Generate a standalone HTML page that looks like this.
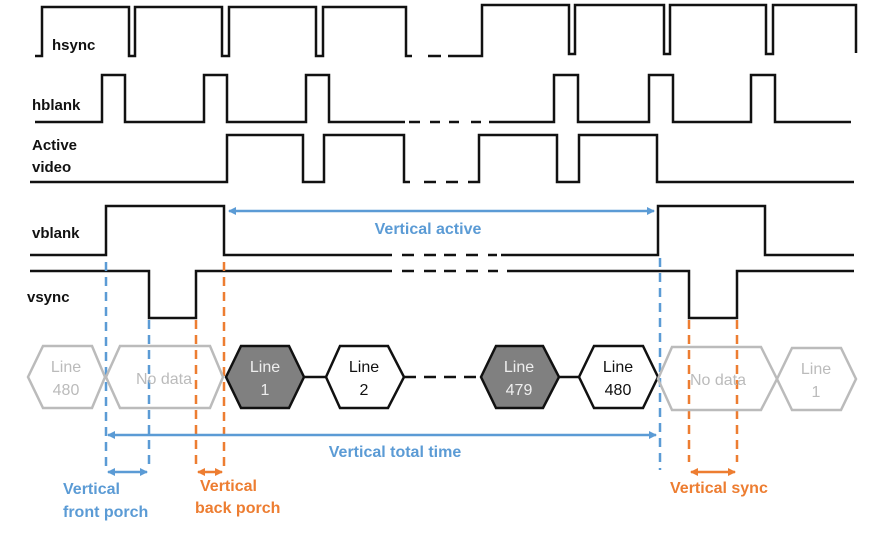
<!DOCTYPE html>
<html><head><meta charset="utf-8"><style>
html,body{margin:0;padding:0;background:#fff}
svg{display:block}
text{font-family:"Liberation Sans",sans-serif}
</style></head><body>
<svg width="888" height="534" viewBox="0 0 888 534" xmlns="http://www.w3.org/2000/svg">
<defs>
<marker id="ab" markerWidth="8" markerHeight="8" refX="7" refY="4" orient="auto-start-reverse" markerUnits="userSpaceOnUse"><path d="M0,0 L8,4 L0,8 z" fill="#5b9bd5"/></marker>
<marker id="ao" markerWidth="8" markerHeight="8" refX="7" refY="4" orient="auto-start-reverse" markerUnits="userSpaceOnUse"><path d="M0,0 L8,4 L0,8 z" fill="#ed7d31"/></marker>
</defs>
<g fill="none" stroke="#111" stroke-width="2.5">
<path d="M35,56 H42 V7 H129 V56 H135 V7 H222 V56 H229 V7 H316 V56 H323 V7 H406 V56 H412"/>
<path d="M428,56 H441 M448,56 H482 V5 H569 V54 H575 V5 H664 V54 H670 V5 H766 V54 H773 V5 H856 V53"/>
<path d="M35,122 H102 V75 H125 V122 H204 V75 H227 V122 H306 V75 H329 V122 H405"/>
<path d="M409,122 H420 M430,122 H440 M449,122 H459 M471,122 H481 M489,122 H554 V75 H578 V122 H649 V75 H673 V122 H751 V75 H775 V122 H851"/>
<path d="M30,182 H227 V135 H303 V182 H324 V135 H404 V182 H410"/>
<path d="M424,182 H436 M446,182 H458 M468,182 H479 V135 H557 V182 H579 V135 H657 V182 H854"/>
<path d="M30,255 H106 V206 H224 V255 H392"/>
<path d="M402,255 H414 M424,255 H436 M444,255 H456 M466,255 H478 M488,255 H497 M501,255 H658 V206 H765 V255 H854"/>
<path d="M30,271 H149 V318 H196 V271 H392"/>
<path d="M402,271 H414 M424,271 H436 M444,271 H456 M466,271 H478 M488,271 H498 M507,271 H689 V318 H737 V271 H854"/>
</g>
<g stroke-width="2.5" stroke-dasharray="9,6" fill="none">
<path d="M106,262 V470 M149,320 V470 M660,258 V470" stroke="#5b9bd5"/>
<path d="M196,320 V470 M224,262 V470 M689,320 V462 M737,320 V462" stroke="#ed7d31"/>
</g>
<g stroke-width="2.5">
<path d="M28,377 L43,346 H92 L105,377 L92,408 H43 Z" fill="none" stroke="#bbb"/>
<path d="M106,377 L120,346 H210 L223,377 L210,408 H120 Z" fill="none" stroke="#bbb"/>
<path d="M304,377 H326 M559,377 H579" stroke="#111"/>
<path d="M404,377 H480" stroke="#111" stroke-dasharray="12,8"/>
<path d="M226,377 L241,346 H289 L304,377 L289,408 H241 Z" fill="#808080" stroke="#111"/>
<path d="M326,377 L340,346 H388 L404,377 L388,408 H340 Z" fill="#fff" stroke="#111"/>
<path d="M481,377 L496,346 H543 L559,377 L543,408 H496 Z" fill="#808080" stroke="#111"/>
<path d="M579,377 L594,346 H643 L658,377 L643,408 H594 Z" fill="#fff" stroke="#111"/>
<path d="M658,379 L672,347 H761 L777,379 L761,410 H672 Z" fill="none" stroke="#bbb"/>
<path d="M777,379 L792,348 H841 L856,379 L841,410 H792 Z" fill="none" stroke="#bbb"/>
</g>
<g font-size="16" text-anchor="middle">
<text x="66" y="372" fill="#bbb">Line</text><text x="66" y="395" fill="#bbb">480</text>
<text x="164" y="384" fill="#bbb">No data</text>
<text x="265" y="372" fill="#eee">Line</text><text x="265" y="395" fill="#eee">1</text>
<text x="364" y="372" fill="#111">Line</text><text x="364" y="395" fill="#111">2</text>
<text x="519" y="372" fill="#eee">Line</text><text x="519" y="395" fill="#eee">479</text>
<text x="618" y="372" fill="#111">Line</text><text x="618" y="395" fill="#111">480</text>
<text x="718" y="385" fill="#bbb">No data</text>
<text x="816" y="374" fill="#bbb">Line</text><text x="816" y="397" fill="#bbb">1</text>
</g>
<g stroke-width="2.5" fill="none">
<line x1="229" y1="211" x2="654" y2="211" stroke="#5b9bd5" marker-start="url(#ab)" marker-end="url(#ab)"/>
<line x1="108" y1="435" x2="656" y2="435" stroke="#5b9bd5" marker-start="url(#ab)" marker-end="url(#ab)"/>
<line x1="108" y1="472" x2="147" y2="472" stroke="#5b9bd5" marker-start="url(#ab)" marker-end="url(#ab)"/>
<line x1="198" y1="472" x2="222" y2="472" stroke="#ed7d31" marker-start="url(#ao)" marker-end="url(#ao)"/>
<line x1="691" y1="472" x2="735" y2="472" stroke="#ed7d31" marker-start="url(#ao)" marker-end="url(#ao)"/>
</g>
<g font-size="16" font-weight="bold">
<text x="428" y="234" fill="#5b9bd5" text-anchor="middle">Vertical active</text>
<text x="395" y="457" fill="#5b9bd5" text-anchor="middle">Vertical total time</text>
<text x="63" y="494" fill="#5b9bd5">Vertical</text>
<text x="63" y="517" fill="#5b9bd5">front porch</text>
<text x="200" y="491" fill="#ed7d31">Vertical</text>
<text x="195" y="513" fill="#ed7d31">back porch</text>
<text x="670" y="493" fill="#ed7d31">Vertical sync</text>
</g>
<g font-size="15" font-weight="bold" fill="#111">
<text x="52" y="50">hsync</text>
<text x="32" y="110">hblank</text>
<text x="32" y="150">Active</text>
<text x="32" y="172">video</text>
<text x="32" y="238">vblank</text>
<text x="27" y="302">vsync</text>
</g>
</svg>
</body></html>
